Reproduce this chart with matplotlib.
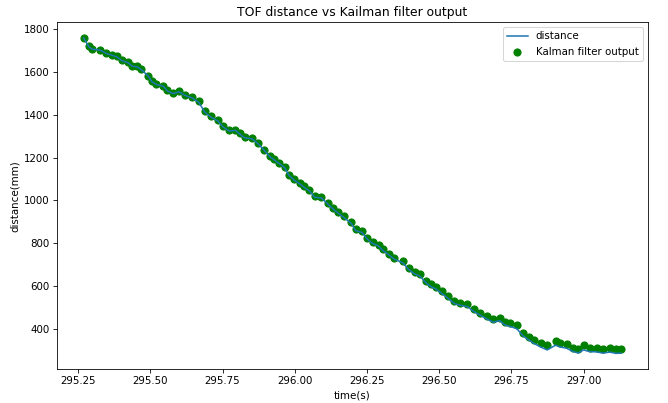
import matplotlib.pyplot as plt
import numpy as np

# time stamps (s)
time = [295.269, 295.287, 295.298, 295.327, 295.347, 295.366, 295.384, 295.402,
        295.424, 295.436, 295.455, 295.469, 295.493, 295.506, 295.521, 295.545,
        295.559, 295.578, 295.600, 295.619, 295.644, 295.667, 295.689, 295.709,
        295.734, 295.752, 295.774, 295.794, 295.811, 295.826, 295.853, 295.873,
        295.895, 295.913, 295.928, 295.947, 295.965, 295.980, 295.999, 296.017,
        296.032, 296.050, 296.069, 296.092, 296.114, 296.132, 296.151, 296.169,
        296.196, 296.211, 296.233, 296.251, 296.270, 296.290, 296.307, 296.327,
        296.345, 296.374, 296.394, 296.415, 296.434, 296.456, 296.471, 296.489,
        296.509, 296.531, 296.553, 296.573, 296.598, 296.620, 296.643, 296.665,
        296.687, 296.710, 296.728, 296.747, 296.769, 296.791, 296.811, 296.829,
        296.851, 296.874, 296.903, 296.918, 296.941, 296.963, 296.981, 297.000,
        297.022, 297.045, 297.067, 297.090, 297.112, 297.130]

# raw TOF distance (mm)
distance = [1757, 1716, 1705, 1700, 1685, 1677, 1669, 1651,
            1641, 1626, 1622, 1609, 1579, 1552, 1540, 1532,
            1510, 1498, 1506, 1490, 1478, 1458, 1411, 1389,
            1370, 1342, 1323, 1327, 1308, 1292, 1287, 1264,
            1233, 1205, 1190, 1171, 1153, 1117, 1094, 1078,
            1062, 1046, 1015, 1012, 984, 961, 941, 922,
            893, 859, 851, 820, 800, 788, 765, 746,
            726, 710, 679, 658, 647, 615, 599, 588,
            567, 544, 520, 512, 506, 483, 465, 448,
            433, 440, 420, 413, 403, 369, 350, 334,
            318, 304, 326, 318, 312, 297, 290, 304,
            296, 295, 289, 294, 288, 289]

# Kalman filter output (mm)
kalman = [1757, 1718, 1707, 1702, 1687, 1679, 1671, 1653,
          1643, 1628, 1625, 1612, 1581, 1555, 1543, 1535,
          1513, 1501, 1509, 1493, 1481, 1462, 1415, 1392,
          1374, 1346, 1327, 1330, 1312, 1296, 1291, 1268,
          1237, 1209, 1194, 1175, 1157, 1121, 1098, 1082,
          1067, 1051, 1020, 1017, 989, 966, 946, 927,
          899, 865, 857, 826, 806, 795, 772, 753,
          733, 718, 687, 667, 656, 625, 609, 598,
          578, 555, 532, 524, 519, 496, 478, 462,
          447, 454, 434, 428, 418, 384, 366, 350,
          335, 326, 346, 338, 330, 315, 307, 326,
          315, 315, 307, 315, 310, 310]

fig = plt.figure(figsize=(668 / 74, 403 / 74), dpi=74)
fig.subplots_adjust(left=0.085, right=0.97, bottom=0.084, top=0.945)
ax = fig.add_subplot(111)

ax.plot(time, distance, label="distance")
ax.scatter(time, kalman, s=48, color="green", label="Kalman filter output")

ax.set_title("TOF distance vs Kailman filter output")
ax.set_xlabel("time(s)")
ax.set_ylabel("distance(mm)")
ax.legend(loc="upper right")

fig.savefig("out.png", dpi=74)
